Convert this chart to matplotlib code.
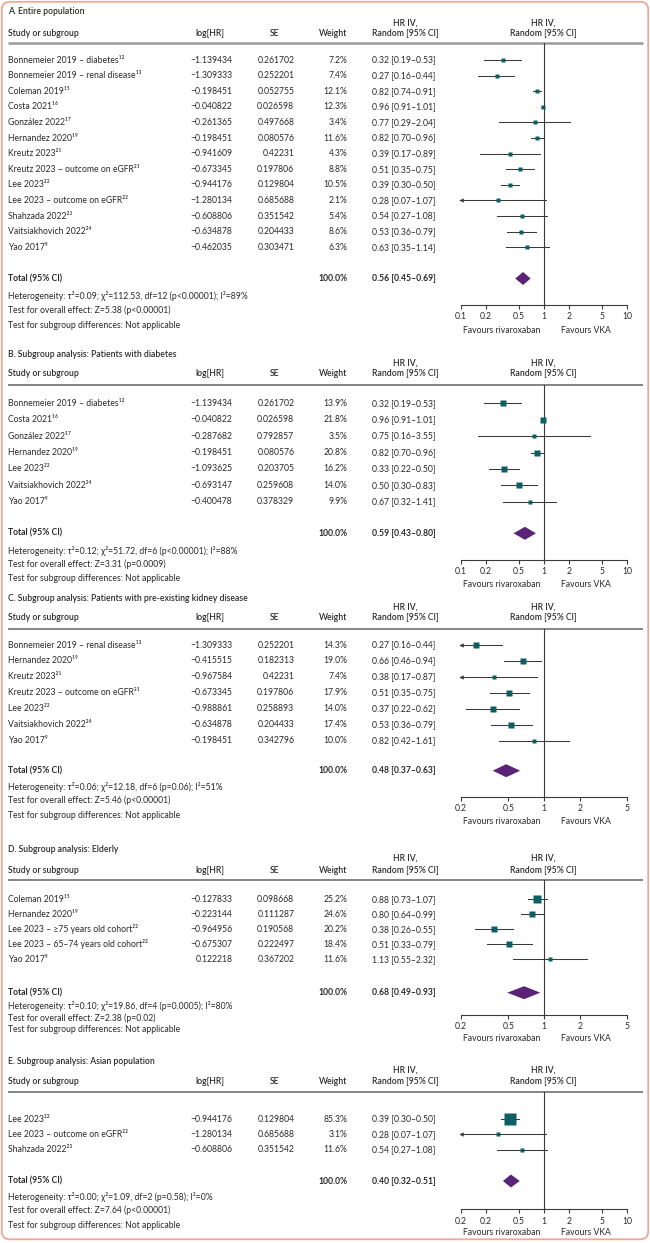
import numpy as np
import matplotlib
matplotlib.use("Agg")
import matplotlib.pyplot as plt
from matplotlib.patches import FancyBboxPatch
from matplotlib.ticker import NullLocator

plt.rcParams['font.family'] = ['Lato', 'DejaVu Sans']
plt.rcParams['font.size'] = 6.2

# ---------------- data ----------------
title_a = "A. Entire population"
names_a = ["Bonnemeier 2019 – diabetes¹²", "Bonnemeier 2019 – renal disease¹³", "Coleman 2019¹⁵",
           "Costa 2021¹⁶", "González 2022¹⁷", "Hernandez 2020¹⁹", "Kreutz 2023²¹",
           "Kreutz 2023 – outcome on eGFR²¹", "Lee 2023²²", "Lee 2023 – outcome on eGFR²²",
           "Shahzada 2022²³", "Vaitsiakhovich 2022²⁴", "Yao 2017⁹"]
loghr_a = [-1.139434, -1.309333, -0.198451, -0.040822, -0.261365, -0.198451, -0.941609,
           -0.673345, -0.944176, -1.280134, -0.608806, -0.634878, -0.462035]
se_a = [0.261702, 0.252201, 0.052755, 0.026598, 0.497668, 0.080576, 0.42231,
        0.197806, 0.129804, 0.685688, 0.351542, 0.204433, 0.303471]
weight_a = [7.2, 7.4, 12.1, 12.3, 3.4, 11.6, 4.3, 8.8, 10.5, 2.1, 5.4, 8.6, 6.3]
hr_a = [0.32, 0.27, 0.82, 0.96, 0.77, 0.82, 0.39, 0.51, 0.39, 0.28, 0.54, 0.53, 0.63]
lo_a = [0.19, 0.16, 0.74, 0.91, 0.29, 0.70, 0.17, 0.35, 0.30, 0.07, 0.27, 0.36, 0.35]
hi_a = [0.53, 0.44, 0.91, 1.01, 2.04, 0.96, 0.89, 0.75, 0.50, 1.07, 1.08, 0.79, 1.14]
total_a = [0.56, 0.45, 0.69]
stats_a = ["Heterogeneity: τ²=0.09; χ²=112.53, df=12 (p<0.00001); I²=89%",
           "Test for overall effect: Z=5.38 (p<0.00001)",
           "Test for subgroup differences: Not applicable"]

title_b = "B. Subgroup analysis: Patients with diabetes"
names_b = ["Bonnemeier 2019 – diabetes¹²", "Costa 2021¹⁶", "González 2022¹⁷", "Hernandez 2020¹⁹",
           "Lee 2023²²", "Vaitsiakhovich 2022²⁴", "Yao 2017⁹"]
loghr_b = [-1.139434, -0.040822, -0.287682, -0.198451, -1.093625, -0.693147, -0.400478]
se_b = [0.261702, 0.026598, 0.792857, 0.080576, 0.203705, 0.259608, 0.378329]
weight_b = [13.9, 21.8, 3.5, 20.8, 16.2, 14.0, 9.9]
hr_b = [0.32, 0.96, 0.75, 0.82, 0.33, 0.50, 0.67]
lo_b = [0.19, 0.91, 0.16, 0.70, 0.22, 0.30, 0.32]
hi_b = [0.53, 1.01, 3.55, 0.96, 0.50, 0.83, 1.41]
total_b = [0.59, 0.43, 0.80]
stats_b = ["Heterogeneity: τ²=0.12; χ²=51.72, df=6 (p<0.00001); I²=88%",
           "Test for overall effect: Z=3.31 (p=0.0009)",
           "Test for subgroup differences: Not applicable"]

title_c = "C. Subgroup analysis: Patients with pre-existing kidney disease"
names_c = ["Bonnemeier 2019 – renal disease¹³", "Hernandez 2020¹⁹", "Kreutz 2023²¹",
           "Kreutz 2023 – outcome on eGFR²¹", "Lee 2023²²", "Vaitsiakhovich 2022²⁴", "Yao 2017⁹"]
loghr_c = [-1.309333, -0.415515, -0.967584, -0.673345, -0.988861, -0.634878, -0.198451]
se_c = [0.252201, 0.182313, 0.42231, 0.197806, 0.258893, 0.204433, 0.342796]
weight_c = [14.3, 19.0, 7.4, 17.9, 14.0, 17.4, 10.0]
hr_c = [0.27, 0.66, 0.38, 0.51, 0.37, 0.53, 0.82]
lo_c = [0.16, 0.46, 0.17, 0.35, 0.22, 0.36, 0.42]
hi_c = [0.44, 0.94, 0.87, 0.75, 0.62, 0.79, 1.61]
total_c = [0.48, 0.37, 0.63]
stats_c = ["Heterogeneity: τ²=0.06; χ²=12.18, df=6 (p=0.06); I²=51%",
           "Test for overall effect: Z=5.46 (p<0.00001)",
           "Test for subgroup differences: Not applicable"]

title_d = "D. Subgroup analysis: Elderly"
names_d = ["Coleman 2019¹⁵", "Hernandez 2020¹⁹", "Lee 2023 – ≥75 years old cohort²²",
           "Lee 2023 – 65–74 years old cohort²²", "Yao 2017⁹"]
loghr_d = [-0.127833, -0.223144, -0.964956, -0.675307, 0.122218]
se_d = [0.098668, 0.111287, 0.190568, 0.222497, 0.367202]
weight_d = [25.2, 24.6, 20.2, 18.4, 11.6]
hr_d = [0.88, 0.80, 0.38, 0.51, 1.13]
lo_d = [0.73, 0.64, 0.26, 0.33, 0.55]
hi_d = [1.07, 0.99, 0.55, 0.79, 2.32]
total_d = [0.68, 0.49, 0.93]
stats_d = ["Heterogeneity: τ²=0.10; χ²=19.86, df=4 (p=0.0005); I²=80%",
           "Test for overall effect: Z=2.38 (p=0.02)",
           "Test for subgroup differences: Not applicable"]

title_e = "E. Subgroup analysis: Asian population"
names_e = ["Lee 2023²²", "Lee 2023 – outcome on eGFR²²", "Shahzada 2022²³"]
loghr_e = [-0.944176, -1.280134, -0.608806]
se_e = [0.129804, 0.685688, 0.351542]
weight_e = [85.3, 3.1, 11.6]
hr_e = [0.39, 0.28, 0.54]
lo_e = [0.30, 0.07, 0.27]
hi_e = [0.50, 1.07, 1.08]
total_e = [0.40, 0.32, 0.51]
stats_e = ["Heterogeneity: τ²=0.00; χ²=1.09, df=2 (p=0.58); I²=0%",
           "Test for overall effect: Z=7.64 (p<0.00001)",
           "Test for subgroup differences: Not applicable"]

ticks_wide = [0.1, 0.2, 0.5, 1, 2, 5, 10]
labels_wide = ["0.1", "0.2", "0.5", "1", "2", "5", "10"]
ticks_narrow = [0.2, 0.5, 1, 2, 5]
labels_narrow = ["0.2", "0.5", "1", "2", "5"]
labels_e = ["0.2", "0.2", "0.5", "1", "2", "5", "10"]

# ---------------- layout (pixel coords) ----------------
W, H = 650, 1243
TXT = '#2a2a2a'
TEAL = '#0c5f62'
PURPLE = '#5a2378'
LINE = '#3a3a3a'

layout = [
    dict(title=11, hr1=23.3, hdr=33, sep=43, row0=60, step=15.6, total=278.5,
         stats=[295.5, 310.5, 325.5], axis=305, fav=330, sepc='#9a9a9a', sepw=1.8),
    dict(title=354, hr1=362.7, hdr=373.3, sep=385, row0=403.3, step=16.4, total=533.3,
         stats=[550.7, 564, 578.3], axis=560, fav=584.3, sepc='#707070', sepw=1.2),
    dict(title=598.3, hr1=606.7, hdr=617.7, sep=629.3, row0=645, step=15.95, total=770.7,
         stats=[787.3, 800.7, 815], axis=796.7, fav=821.7, sepc='#707070', sepw=1.2),
    dict(title=849.3, hr1=858.3, hdr=870, sep=880, row0=899.3, step=15, total=992.7,
         stats=[1006, 1018.3, 1030], axis=1014.5, fav=1038.5, sepc='#707070', sepw=1.2),
    dict(title=1061, hr1=1070, hdr=1081, sep=1091.7, row0=1119, step=15.4, total=1181,
         stats=[1197.3, 1210.7, 1225.7], axis=1209.3, fav=1232.3, sepc='#707070', sepw=1.2),
]

panels = [
    dict(title=title_a, names=names_a, loghr=loghr_a, se=se_a, weight=weight_a, hr=hr_a,
         lo=lo_a, hi=hi_a, total=total_a, stats=stats_a, ticks=ticks_wide, labels=labels_wide),
    dict(title=title_b, names=names_b, loghr=loghr_b, se=se_b, weight=weight_b, hr=hr_b,
         lo=lo_b, hi=hi_b, total=total_b, stats=stats_b, ticks=ticks_wide, labels=labels_wide),
    dict(title=title_c, names=names_c, loghr=loghr_c, se=se_c, weight=weight_c, hr=hr_c,
         lo=lo_c, hi=hi_c, total=total_c, stats=stats_c, ticks=ticks_narrow, labels=labels_narrow),
    dict(title=title_d, names=names_d, loghr=loghr_d, se=se_d, weight=weight_d, hr=hr_d,
         lo=lo_d, hi=hi_d, total=total_d, stats=stats_d, ticks=ticks_narrow, labels=labels_narrow),
    dict(title=title_e, names=names_e, loghr=loghr_e, se=se_e, weight=weight_e, hr=hr_e,
         lo=lo_e, hi=hi_e, total=total_e, stats=stats_e, ticks=ticks_wide, labels=labels_e),
]


def fmt_num(v):
    s = ('%.6f' % abs(v)).rstrip('0')
    return ('−' if v < 0 else '') + s


def fmt_ci(h, l, u):
    return '%.2f [%.2f–%.2f]' % (h, l, u)


fig = plt.figure(figsize=(W / 100, H / 100), dpi=100)
bg = fig.add_axes([0, 0, 1, 1])
bg.set_xlim(0, W)
bg.set_ylim(H, 0)
bg.axis('off')

bg.add_patch(FancyBboxPatch((1.8, 1.8), W - 3.6, 1237.5, boxstyle="round,pad=0,rounding_size=8",
                            fc='white', ec='#f2a793', lw=1.3))

X0, X1 = 461, 627  # forest plot column


def draw_panel(p, L):
    kw = dict(color=TXT, va='center')
    bg.text(8, L['title'], p['title'], weight='semibold', **kw)
    bg.text(8, L['hdr'], 'Study or subgroup', weight='semibold', **kw)
    bg.text(210, L['hdr'], 'log[HR]', ha='center', weight='semibold', **kw)
    bg.text(275, L['hdr'], 'SE', ha='center', weight='semibold', **kw)
    bg.text(347.5, L['hdr'], 'Weight', ha='right', weight='semibold', **kw)
    for xc in (405, 543.5):
        bg.text(xc, L['hr1'], 'HR IV,', ha='center', weight='semibold', **kw)
        bg.text(xc, L['hdr'], 'Random [95% CI]', ha='center', weight='semibold', **kw)
    bg.plot([8, 643], [L['sep'], L['sep']], color=L['sepc'], lw=L['sepw'], solid_capstyle='butt')

    ys = [L['row0'] + i * L['step'] for i in range(len(p['names']))]
    for y, n, lg, s, w, h, l, u in zip(ys, p['names'], p['loghr'], p['se'], p['weight'],
                                       p['hr'], p['lo'], p['hi']):
        bg.text(8, y, n, **kw)
        bg.text(232.3, y, fmt_num(lg), ha='right', **kw)
        bg.text(294.3, y, fmt_num(s), ha='right', **kw)
        bg.text(347.5, y, '%.1f%%' % w, ha='right', **kw)
        bg.text(372, y, fmt_ci(h, l, u), ha='left', **kw)

    t = p['total']
    bg.text(8, L['total'], 'Total (95% CI)', weight='bold', **kw)
    bg.text(347.5, L['total'], '100.0%', ha='right', weight='bold', **kw)
    bg.text(372, L['total'], fmt_ci(*t), ha='left', weight='bold', **kw)
    for y, s in zip(L['stats'], p['stats']):
        bg.text(8, y, s, **kw)
    bg.text(540, L['fav'], 'Favours rivaroxaban', ha='right', **kw)
    bg.text(561, L['fav'], 'Favours VKA', ha='left', **kw)

    # forest column
    top, bot = L['sep'], L['axis']
    ax = fig.add_axes([X0 / W, 1 - bot / H, (X1 - X0) / W, (bot - top) / H])
    ax.patch.set_visible(False)
    ax.set_xscale('log')
    xmin, xmax = p['ticks'][0], p['ticks'][-1]
    ax.set_xlim(xmin, xmax)
    ax.set_ylim(bot, top)
    for s in ('top', 'left', 'right'):
        ax.spines[s].set_visible(False)
    ax.spines['bottom'].set_color(LINE)
    ax.spines['bottom'].set_linewidth(0.8)
    ax.set_yticks([])
    ax.set_xticks(p['ticks'])
    ax.set_xticklabels(p['labels'])
    ax.xaxis.set_minor_locator(NullLocator())
    ax.tick_params(axis='x', direction='out', length=3.2, width=0.8, color=LINE,
                   pad=2.0, labelsize=6.2, labelcolor=TXT)
    ax.axvline(1, color=LINE, lw=0.8)

    for y, w, h, l, u in zip(ys, p['weight'], p['hr'], p['lo'], p['hi']):
        ax.plot([max(l, xmin), min(u, xmax)], [y, y], color=LINE, lw=0.75, zorder=2)
        if l < xmin:
            ax.plot([xmin], [y], marker='<', ms=3.2, color=LINE, mec='none', clip_on=False, zorder=2)
        side = max(3.2, 1.4 * np.sqrt(w))
        ax.plot([h], [y], marker='s', ms=side * 0.72, color=TEAL, mec='none', zorder=3)

    yt = L['total']
    ax.fill([t[1], t[0], t[2], t[0]], [yt, yt - 6.5, yt, yt + 6.5], color=PURPLE, lw=0, zorder=3)


for p, L in zip(panels, layout):
    draw_panel(p, L)

fig.savefig('out.png', dpi=100)
